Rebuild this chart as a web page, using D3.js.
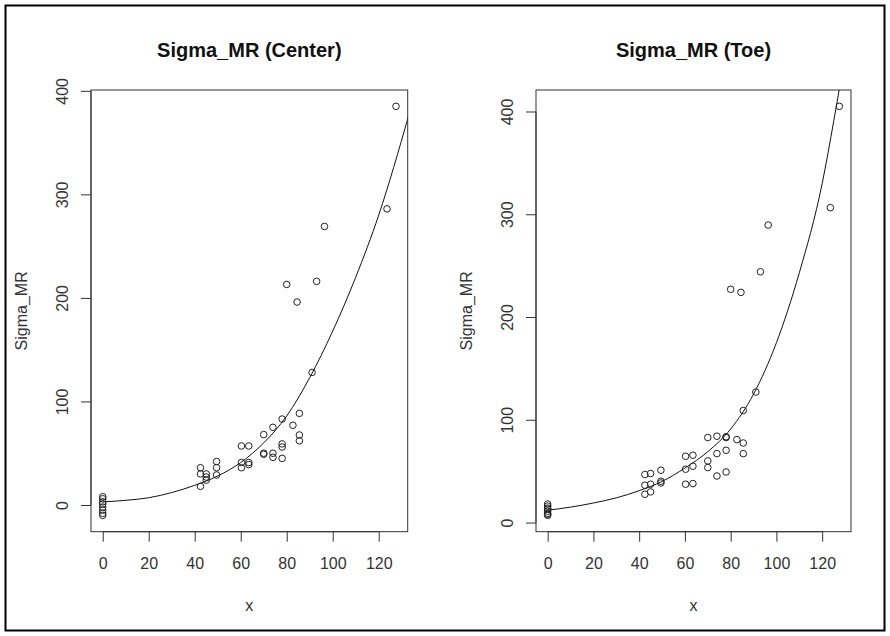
<!DOCTYPE html>
<html>
<head>
<meta charset="utf-8">
<script src="https://cdn.jsdelivr.net/npm/d3@7"></script>
<style>
  html, body { margin: 0; padding: 0; background: #fff; }
  svg { display: block; font-family: "Liberation Sans", Arial, sans-serif; }
</style>
</head>
<body>
<svg id="chart" width="890" height="636"></svg>
<script>
// Shared predictor values (x) for both panels
const xValues = [
  0, 0, 0, 0, 0, 0, 0, 0,
  42.5, 42.5, 42.5, 45, 45, 45, 49.5, 49.5, 49.5,
  60.3, 60.3, 60.3, 63.5, 63.5, 63.5,
  70, 70, 70, 74, 74, 74, 78, 78, 78, 78,
  80, 82.7, 84.5, 85.5, 85.5, 85.5,
  91, 93, 96.4, 123.6, 127.5
];

// Observed Sigma_MR at the center position
const centerValues = [
  8, 6, 3, 1, -2, -5, -8, -10,
  36, 30, 18, 30, 27, 24, 42, 36, 29,
  57, 41, 36, 57, 41, 39,
  68, 50, 49, 75, 50, 46, 83, 59, 56, 45,
  213, 77, 196, 88.5, 67.6, 62,
  128, 216, 269, 286, 385
];

// Observed Sigma_MR at the toe position
const toeValues = [
  18, 16, 14, 13, 11, 9, 8, 7,
  46.7, 36.3, 27.5, 47.7, 37.3, 29.8, 50.9, 40.2, 38.5,
  64.5, 51.9, 37.3, 65.5, 54.8, 37.9,
  82.7, 60, 53.5, 84, 67.1, 45.3, 82.7, 83.5, 70.3, 49.2,
  227, 80.7, 224, 109, 77.4, 67.1,
  127, 244, 289.5, 306.4, 405
];

// Fitted curves
const centerFitX = [0, 10, 20, 30, 40, 50, 60, 70, 80, 90, 100, 110, 120, 133];
const centerFitY = [3, 4.5, 7, 12, 19, 28, 41, 60, 86, 123, 168, 220, 280, 376];
const toeFitX = [0, 10, 20, 30, 40, 50, 60, 70, 80, 90, 100, 110, 120, 125, 130];
const toeFitY = [12, 15, 19, 24, 31, 40, 53, 69, 91, 125, 175, 243, 330, 390, 455];

const xTicks = [0, 20, 40, 60, 80, 100, 120];
const yTicks = [0, 100, 200, 300, 400];

const svg = d3.select("#chart");

// outer frame
svg.append("rect")
  .attr("x", 5.5).attr("y", 5.5)
  .attr("width", 879).attr("height", 625)
  .attr("fill", "none").attr("stroke", "#000").attr("stroke-width", 2);

// R-style 4% axis extension
function extend(vals) {
  const [lo, hi] = d3.extent(vals);
  const pad = (hi - lo) * 0.04;
  return [lo - pad, hi + pad];
}

const panels = [
  { title: "Sigma_MR (Center)", ys: centerValues, fx: centerFitX, fy: centerFitY, left: 91, right: 407.7, id: "c" },
  { title: "Sigma_MR (Toe)", ys: toeValues, fx: toeFitX, fy: toeFitY, left: 536, right: 851, id: "t" }
];
const plotTop = 90, plotBottom = 531.7;

panels.forEach(p => {
  const x = d3.scaleLinear().domain(extend(xValues)).range([p.left, p.right]);
  const y = d3.scaleLinear().domain(extend(p.ys)).range([plotBottom, plotTop]);
  const g = svg.append("g");

  g.append("clipPath").attr("id", "clip-" + p.id)
    .append("rect").attr("x", p.left).attr("y", plotTop)
    .attr("width", p.right - p.left).attr("height", plotBottom - plotTop);

  // x axis
  const xa = g.append("g").attr("transform", `translate(0,${plotBottom})`)
    .call(d3.axisBottom(x).tickValues(xTicks).tickSize(10).tickPadding(16).tickFormat(d3.format("d")));
  xa.select(".domain").attr("d", `M${x(xTicks[0])},0H${x(xTicks[xTicks.length - 1])}`).attr("stroke", "#333");
  xa.selectAll(".tick line").attr("stroke", "#333");
  xa.selectAll(".tick text").attr("font-size", 16).attr("fill", "#333")
    .attr("font-family", "Liberation Sans, Arial, sans-serif");

  // y axis with rotated labels
  const ya = g.append("g").attr("transform", `translate(${p.left},0)`)
    .call(d3.axisLeft(y).tickValues(yTicks).tickSize(10).tickFormat(d3.format("d")));
  ya.select(".domain").attr("d", `M0,${y(yTicks[0])}V${y(yTicks[yTicks.length - 1])}`).attr("stroke", "#333");
  ya.selectAll(".tick line").attr("stroke", "#333");
  ya.selectAll(".tick text")
    .attr("font-size", 16).attr("fill", "#333")
    .attr("font-family", "Liberation Sans, Arial, sans-serif")
    .attr("x", null).attr("dy", null)
    .attr("text-anchor", "middle")
    .attr("transform", "translate(-23,0) rotate(-90)");

  // plot box
  g.append("rect")
    .attr("x", p.left).attr("y", plotTop)
    .attr("width", p.right - p.left).attr("height", plotBottom - plotTop)
    .attr("fill", "none").attr("stroke", "#333").attr("stroke-width", 1);

  // fitted curve
  const fit = p.fx.map((v, i) => [v, p.fy[i]]);
  g.append("path")
    .attr("clip-path", `url(#clip-${p.id})`)
    .attr("d", d3.line().x(d => x(d[0])).y(d => y(d[1])).curve(d3.curveMonotoneX)(fit))
    .attr("fill", "none").attr("stroke", "#111").attr("stroke-width", 1);

  // observations
  g.selectAll("circle.obs")
    .data(xValues.map((v, i) => [v, p.ys[i]]))
    .join("circle")
    .attr("class", "obs")
    .attr("cx", d => x(d[0])).attr("cy", d => y(d[1]))
    .attr("r", 3.3)
    .attr("fill", "none").attr("stroke", "#222").attr("stroke-width", 1);

  // titles
  const cx = (p.left + p.right) / 2;
  g.append("text").attr("x", cx).attr("y", 57)
    .attr("text-anchor", "middle").attr("font-weight", "bold")
    .attr("font-size", 20).attr("fill", "#111").text(p.title);
  g.append("text").attr("x", cx).attr("y", 611)
    .attr("text-anchor", "middle").attr("font-size", 16).attr("fill", "#333").text("x");
  g.append("text")
    .attr("transform", `translate(${p.left - 64},${(plotTop + plotBottom) / 2}) rotate(-90)`)
    .attr("text-anchor", "middle").attr("font-size", 16).attr("fill", "#333").text("Sigma_MR");
});
</script>
</body>
</html>
